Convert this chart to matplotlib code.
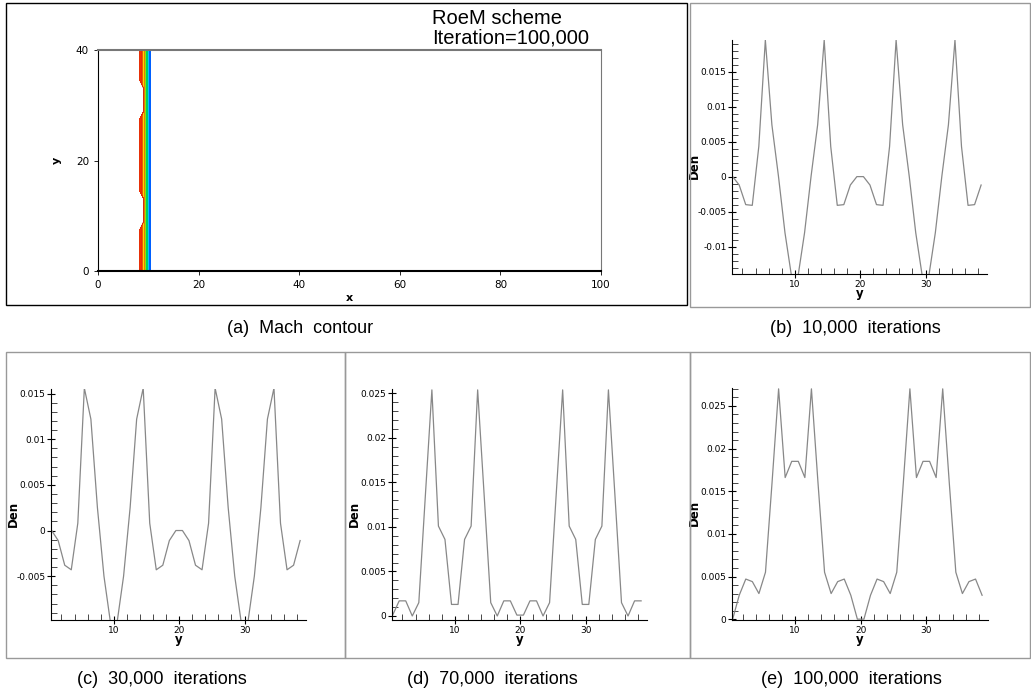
import numpy as np
import matplotlib
matplotlib.use('Agg')
import matplotlib.pyplot as plt
from matplotlib.patches import Rectangle
from matplotlib.ticker import MultipleLocator
from matplotlib.colors import ListedColormap

# Tamaño de la figura en píxeles
W, H = 1031, 694

# Posición de la onda (frente del contorno de Mach)
front_y = [0, 7.5, 9.0, 13.0, 14.5, 27.5, 29.0, 33.0, 34.5, 40]
front_left = [8.3, 8.3, 9.1, 9.1, 8.3, 8.3, 9.1, 9.1, 8.3, 8.3]
front_right = 10.4

# Coordenada y de las celdas
y_cells = [i + 0.5 for i in range(39)]

# Densidad (Den) para cada caso de iteraciones
den_10k = [0.0, -0.0012, -0.0040, -0.0041, 0.0043, 0.0195, 0.0074, 0.0001, -0.0080, -0.0142,
           -0.0142, -0.0080, 0.0001, 0.0074, 0.0195, 0.0043, -0.0041, -0.0040, -0.0012, 0.0,
           0.0, -0.0012, -0.0040, -0.0041, 0.0043, 0.0195, 0.0074, 0.0001, -0.0080, -0.0142,
           -0.0142, -0.0080, 0.0001, 0.0074, 0.0195, 0.0043, -0.0041, -0.0040, -0.0012]
den_30k = [0.0, -0.0011, -0.0038, -0.0043, 0.0008, 0.0156, 0.0122, 0.0025, -0.0050, -0.0101,
           -0.0101, -0.0050, 0.0025, 0.0122, 0.0156, 0.0008, -0.0043, -0.0038, -0.0011, 0.0,
           0.0, -0.0011, -0.0038, -0.0043, 0.0008, 0.0156, 0.0122, 0.0025, -0.0050, -0.0101,
           -0.0101, -0.0050, 0.0025, 0.0122, 0.0156, 0.0008, -0.0043, -0.0038, -0.0011]
den_70k = [0.0001, 0.0017, 0.0017, 0.0, 0.0015, 0.0135, 0.0254, 0.0101, 0.0086, 0.0013,
           0.0013, 0.0086, 0.0101, 0.0254, 0.0135, 0.0015, 0.0, 0.0017, 0.0017, 0.0001,
           0.0001, 0.0017, 0.0017, 0.0, 0.0015, 0.0135, 0.0254, 0.0101, 0.0086, 0.0013,
           0.0013, 0.0086, 0.0101, 0.0254, 0.0135, 0.0015, 0.0, 0.0017, 0.0017]
den_100k = [0.0, 0.0028, 0.0047, 0.0044, 0.0030, 0.0055, 0.0160, 0.0270, 0.0166, 0.0185,
            0.0185, 0.0166, 0.0270, 0.0160, 0.0055, 0.0030, 0.0044, 0.0047, 0.0028, 0.0,
            0.0, 0.0028, 0.0047, 0.0044, 0.0030, 0.0055, 0.0160, 0.0270, 0.0166, 0.0185,
            0.0185, 0.0166, 0.0270, 0.0160, 0.0055, 0.0030, 0.0044, 0.0047, 0.0028]

captions = ['(a)  Mach  contour', '(b)  10,000  iterations', '(c)  30,000  iterations',
            '(d)  70,000  iterations', '(e)  100,000  iterations']

# Colores tipo Tecplot (azul -> rojo)
mach_colors = ['#0060ff', '#00c8ff', '#00d060', '#9be000', '#ffe000', '#ff9000', '#ff3000']


def px_axes(fig, left, top, right, bottom):
    # Crear ejes a partir de coordenadas en píxeles
    return fig.add_axes([left / W, 1 - bottom / H, (right - left) / W, (bottom - top) / H])


def px_frame(fig, left, top, right, bottom, color):
    fig.patches.append(Rectangle((left / W, 1 - bottom / H), (right - left) / W, (bottom - top) / H,
                                 transform=fig.transFigure, fill=False, edgecolor=color, lw=1.0))


fig = plt.figure(figsize=(W / 100, H / 100), dpi=100)
fig.patch.set_facecolor('white')

# Marcos de cada panel
px_frame(fig, 6, 3, 687, 305, 'black')
px_frame(fig, 690, 3, 1030, 307, '#999999')
px_frame(fig, 6, 352, 345, 658, '#999999')
px_frame(fig, 345, 352, 690, 658, '#999999')
px_frame(fig, 690, 352, 1030, 658, '#999999')

# (a) Contorno de Mach
ax = px_axes(fig, 98, 50, 601, 271)
xg = np.linspace(0, 100, 5001)
yg = np.linspace(0, 40, 801)
X, Y = np.meshgrid(xg, yg)
edge = np.interp(Y, front_y, front_left)
M = (front_right - X) / (front_right - 8.3)
M = np.where(X < edge, 2.0, M)
levels = np.linspace(0, 1, 8)
ax.contourf(X, Y, M, levels=levels, cmap=ListedColormap(mach_colors))
ax.contour(X, Y, M, levels=levels[4:], colors='#d03010', linewidths=0.4)
ax.set_xlim(0, 100)
ax.set_ylim(0, 40)
ax.set_xticks([0, 20, 40, 60, 80, 100])
ax.set_yticks([0, 20, 40])
ax.tick_params(labelsize=7.5, length=3, width=0.6)
for lab in ax.get_xticklabels() + ax.get_yticklabels():
    lab.set_family('Liberation Sans Narrow')
ax.spines['top'].set_color('#777777')
ax.spines['top'].set_linewidth(1.5)
ax.spines['right'].set_color('#777777')
ax.spines['bottom'].set_linewidth(1.5)
ax.set_xlabel('x', fontsize=8, fontweight='bold', labelpad=2)
ax.set_ylabel('y', fontsize=8, fontweight='bold')
ax.yaxis.set_label_coords(-36.0 / 503, 0.5)
fig.text(432 / W, 1 - 19 / H, 'RoeM scheme', fontsize=14.5, family='Liberation Sans', va='center')
fig.text(432 / W, 1 - 38 / H, 'Iteration=100,000', fontsize=14.5, family='Liberation Sans', va='center')


def den_panel(box, values, ylim, yticks):
    a = px_axes(fig, *box)
    a.plot(y_cells, values, color='#888888', lw=0.9)
    a.set_xlim(0.4, 39.4)
    a.set_ylim(*ylim)
    a.set_xticks([10, 20, 30])
    a.set_yticks(yticks)
    a.set_yticklabels(['%g' % t for t in yticks])
    a.xaxis.set_minor_locator(MultipleLocator(2))
    a.yaxis.set_minor_locator(MultipleLocator(0.001))
    a.spines['top'].set_visible(False)
    a.spines['right'].set_visible(False)
    a.tick_params(which='major', direction='inout', length=6, width=0.8, labelsize=6.5, pad=1)
    a.tick_params(which='minor', direction='in', length=4, width=0.5)
    a.set_xlabel('y', fontsize=8.5, fontweight='bold', labelpad=-1)
    a.set_ylabel('Den', fontsize=8.5, fontweight='bold')
    a.yaxis.set_label_coords(-31.0 / (box[2] - box[0]), 0.46)
    return a


den_panel((732, 40, 987, 274), den_10k, (-0.0139, 0.0195), [-0.01, -0.005, 0, 0.005, 0.01, 0.015])
den_panel((51, 389, 306, 620), den_30k, (-0.0098, 0.0155), [-0.005, 0, 0.005, 0.01, 0.015])
den_panel((392, 389, 647, 620), den_70k, (-0.00045, 0.0255), [0, 0.005, 0.01, 0.015, 0.02, 0.025])
den_panel((732, 388, 988, 620), den_100k, (-0.0001, 0.0271), [0, 0.005, 0.01, 0.015, 0.02, 0.025])

# Leyendas de cada panel
cap_pos = [(300, 328), (855, 328), (162, 679), (492, 679), (851, 679)]
for (cx, cy), txt in zip(cap_pos, captions):
    fig.text(cx / W, 1 - cy / H, txt, fontsize=13, family='Liberation Sans', ha='center', va='center')

fig.savefig('out.png', dpi=100)
